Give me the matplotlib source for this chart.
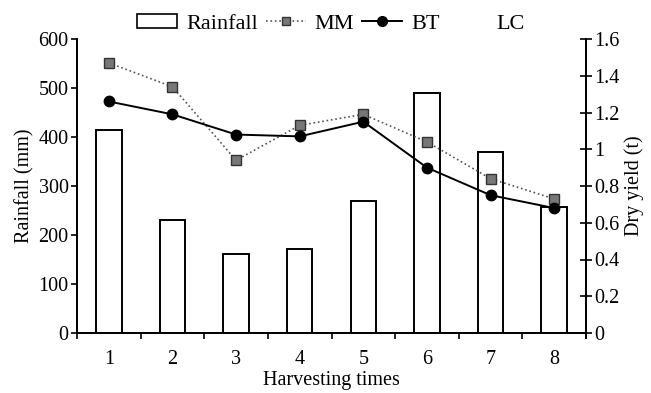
import matplotlib
matplotlib.use("Agg")
import matplotlib.pyplot as plt
from matplotlib.lines import Line2D
from matplotlib.patches import Patch

harvests = [1, 2, 3, 4, 5, 6, 7, 8]
tick_labels = ["1", "2", "3", "4", "5", "6", "7", "8"]
rainfall = [414, 231, 162, 172, 269, 489, 369, 257]
mm_yield = [1.47, 1.34, 0.94, 1.13, 1.19, 1.04, 0.84, 0.73]
bt_yield = [1.26, 1.19, 1.08, 1.07, 1.15, 0.90, 0.75, 0.68]

plt.rcParams['font.family'] = ['Liberation Serif', 'DejaVu Serif']

fig = plt.figure(figsize=(6.51, 3.93), dpi=100)
ax = fig.add_axes([77/651, 1 - 333/393, (586 - 77)/651, (333 - 39)/393])
ax2 = ax.twinx()

ax.bar(harvests, rainfall, width=0.4, facecolor='white', edgecolor='black', linewidth=1.4, zorder=2)
ax.set_xlim(0.5, 8.5)
ax.set_ylim(0, 600)
ax.set_yticks([0, 100, 200, 300, 400, 500, 600])
ax.set_xticks(harvests)
ax.set_xticklabels(tick_labels)
ax.set_xticks([1.5 + i for i in range(-1, 8)] + [8.5], minor=True)
ax.tick_params(axis='x', which='major', length=0, pad=12, labelsize=14.5)
ax.tick_params(axis='x', which='minor', direction='out', length=4, width=1.2)
ax.tick_params(axis='y', direction='out', length=4, width=1.2, labelsize=14.5, pad=2)
ax.set_ylabel("Rainfall (mm)", fontsize=14.5, labelpad=3)
ax.set_xlabel("Harvesting times", fontsize=14.5, labelpad=2)

ax2.plot(harvests, mm_yield, linestyle=':', color='#555555', linewidth=1.2,
         marker='s', markersize=6.5, markerfacecolor='#777777', markeredgecolor='#333333', zorder=3)
ax2.plot(harvests, bt_yield, linestyle='-', color='black', linewidth=1.4,
         marker='o', markersize=7.5, markerfacecolor='black', markeredgecolor='black', zorder=4)
ax2.set_ylim(0, 1.6)
ax2.set_yticks([0, 0.2, 0.4, 0.6, 0.8, 1.0, 1.2, 1.4, 1.6])
ax2.set_yticklabels(["0", "0.2", "0.4", "0.6", "0.8", "1", "1.2", "1.4", "1.6"])
ax2.tick_params(axis='y', direction='inout', length=8, width=1.2, labelsize=14.5, pad=2)
ax2.set_ylabel("Dry yield (t)", fontsize=14.5, labelpad=3)

for a in (ax, ax2):
    a.spines['top'].set_visible(False)
    for s in ('left', 'right', 'bottom'):
        a.spines[s].set_linewidth(1.4)

handles = [
    Patch(facecolor='white', edgecolor='black', linewidth=1.2),
    Line2D([], [], linestyle=':', color='#555555', linewidth=1.2, marker='s', markersize=5.5,
           markerfacecolor='#777777', markeredgecolor='#333333'),
    Line2D([], [], linestyle='-', color='black', linewidth=1.4, marker='o', markersize=7,
           markerfacecolor='black'),
    Line2D([], [], linestyle='none'),
]
labels = ["Rainfall", "MM", "BT", "LC"]
fig.legend(handles, labels, loc='center', bbox_to_anchor=(331/651, 1 - 24/393), ncol=4,
           frameon=False, fontsize=16, handlelength=1.8, handletextpad=0.4,
           columnspacing=0.36, handleheight=0.55)

fig.savefig("out.png", dpi=100)
